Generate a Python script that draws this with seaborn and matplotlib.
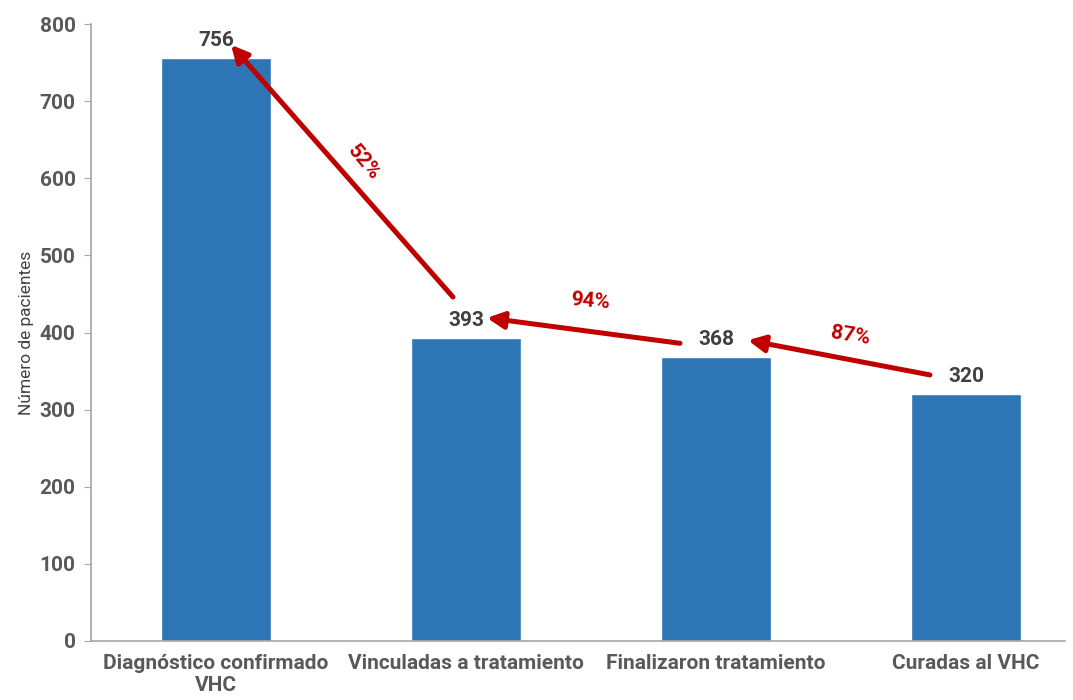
import matplotlib
matplotlib.use("Agg")
import matplotlib.pyplot as plt
import seaborn as sns
import pandas as pd

categories = ["Diagnóstico confirmado\nVHC", "Vinculadas a tratamiento", "Finalizaron tratamiento", "Curadas al VHC"]
values = [756, 393, 368, 320]
percents = ["52%", "94%", "87%"]
yticks = [0, 100, 200, 300, 400, 500, 600, 700, 800]

sns.set_style("white")
plt.rcParams['font.family'] = ['Roboto', 'DejaVu Sans']

BLUE = "#2E75B6"
RED = "#C00000"
GRAY = "#595959"

df = pd.DataFrame({"cat": categories, "val": values})
fig = plt.figure(figsize=(10.73, 7.0), dpi=100)
ax = fig.add_axes([0.0848, 0.0843, 0.9077, 0.8814])
sns.barplot(data=df, x="cat", y="val", color=BLUE, width=0.44, saturation=1, ax=ax)

ax.set_xlim(-0.5, 3.396)
ax.set_ylim(0, 800)
ax.set_yticks(yticks)
ax.set_xlabel("")
ax.set_ylabel("Número de pacientes", fontsize=12.5, color="#404040", labelpad=4)
for s in ["top", "right"]:
    ax.spines[s].set_visible(False)
for s in ["left", "bottom"]:
    ax.spines[s].set_color("#A6A6A6")
    ax.spines[s].set_linewidth(1.2)
ax.tick_params(axis="y", left=True, length=5, color="#A6A6A6", labelsize=15, labelcolor=GRAY, pad=6)
ax.tick_params(axis="x", bottom=False, labelsize=15, labelcolor=GRAY, pad=6)
for lab in ax.get_yticklabels() + ax.get_xticklabels():
    lab.set_fontweight("bold")

for i, v in enumerate(values):
    ax.text(i, v + 10, str(v), ha="center", va="bottom", fontsize=15, fontweight="bold", color="#404040")

# arrows (tail -> head), derived from bar positions/values
arrows = [
    ((0.948, values[1] + 53), (0.06, values[0] + 17)),
    ((1.856, values[2] + 18), (1.084, values[1] + 26)),
    ((2.856, values[3] + 25), (2.128, values[2] + 22)),
]
for (t, h) in arrows:
    ax.annotate("", xy=h, xytext=t,
                arrowprops=dict(arrowstyle="-|>,head_length=1.0,head_width=0.5", color=RED, lw=3.6,
                                shrinkA=0, shrinkB=0))

label_pos = [(0.59, 621, -50), (1.496, 440, -5), (2.536, 396, -9)]
for p, (x, y, r) in zip(percents, label_pos):
    ax.text(x, y, p, ha="center", va="center", rotation=r, fontsize=15, fontweight="bold", color=RED)

fig.savefig("out.png", dpi=100)
